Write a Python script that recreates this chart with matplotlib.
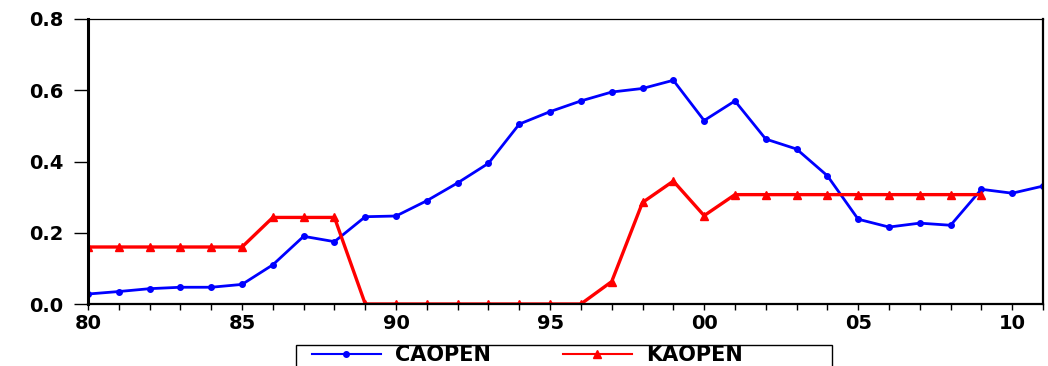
import numpy as np
import matplotlib
matplotlib.use('Agg')
import matplotlib.pyplot as plt
from matplotlib.lines import Line2D
from matplotlib.patches import Rectangle
from matplotlib.ticker import MultipleLocator, FixedLocator

# annual series, 1980-2011
years = list(range(1980, 2012))
caopen = [0.028, 0.035, 0.043, 0.047, 0.047, 0.055, 0.110, 0.190, 0.175, 0.245,
          0.247, 0.290, 0.340, 0.395, 0.505, 0.540, 0.570, 0.595, 0.605, 0.628,
          0.515, 0.570, 0.463, 0.435, 0.360, 0.238, 0.216, 0.227, 0.221, 0.322,
          0.311, 0.331]
# KAOPEN stops at 2009
kaopen_years = list(range(1980, 2010))
kaopen = [0.160, 0.160, 0.160, 0.160, 0.160, 0.160, 0.243, 0.243, 0.243, 0.000,
          0.000, 0.000, 0.000, 0.000, 0.000, 0.000, 0.000, 0.063, 0.285, 0.345,
          0.248, 0.307, 0.307, 0.307, 0.307, 0.307, 0.307, 0.307, 0.307, 0.307]

x_labels = ['80', '85', '90', '95', '00', '05', '10']
y_labels = ['0.0', '0.2', '0.4', '0.6', '0.8']
series_names = ['CAOPEN', 'KAOPEN']

blue = '#0000ff'
red = '#ff0000'
font = {'family': 'DejaVu Sans', 'weight': 'bold', 'size': 14}

fig = plt.figure(figsize=(10.48, 3.66), dpi=100)
ax = fig.add_axes([88 / 1048, 62 / 366, 955 / 1048, 285 / 366])

ax.plot(years, caopen, color=blue, lw=2.0, marker='o', ms=4, mec=blue, mfc=blue,
        solid_joinstyle='miter')
ax.plot(kaopen_years, kaopen, color=red, lw=2.4, marker='^', ms=6, mec=red, mfc=red,
        solid_joinstyle='miter')

ax.set_xlim(1980, 2011)
ax.set_ylim(0, 0.8)

ax.xaxis.set_major_locator(FixedLocator(range(1980, 2011, 5)))
ax.xaxis.set_minor_locator(MultipleLocator(1))
ax.set_xticklabels(x_labels, fontdict=font)
ax.yaxis.set_major_locator(FixedLocator([0, 0.2, 0.4, 0.6, 0.8]))
ax.set_yticklabels(y_labels, fontdict=font)

ax.tick_params(axis='x', which='both', direction='out', length=4, width=1, pad=3)
ax.tick_params(axis='y', which='major', direction='out', length=10, width=1, pad=8)

ax.spines['left'].set_linewidth(2.2)
ax.spines['bottom'].set_linewidth(1.6)
ax.spines['right'].set_linewidth(1.6)
ax.spines['top'].set_linewidth(0.9)

# legend below the plot, box runs off the bottom edge
fig.patches.append(Rectangle((296 / 1048, -0.05), 536 / 1048, 0.05 + 21 / 366,
                             transform=fig.transFigure, fill=False,
                             edgecolor='black', lw=1.0))
handles = [Line2D([], [], color=blue, lw=1.5, marker='o', ms=4),
           Line2D([], [], color=red, lw=1.5, marker='^', ms=6)]
for handle, name, x0 in zip(handles, series_names, [312, 563]):
    leg = fig.legend([handle], [name], loc='center left',
                     bbox_to_anchor=(x0 / 1048, 1 - 355 / 366), frameon=False,
                     numpoints=1, handlelength=3.3, handletextpad=0.7,
                     borderpad=0, borderaxespad=0,
                     prop={'family': 'DejaVu Sans', 'weight': 'bold', 'size': 15})

fig.savefig('out.png', dpi=100)
